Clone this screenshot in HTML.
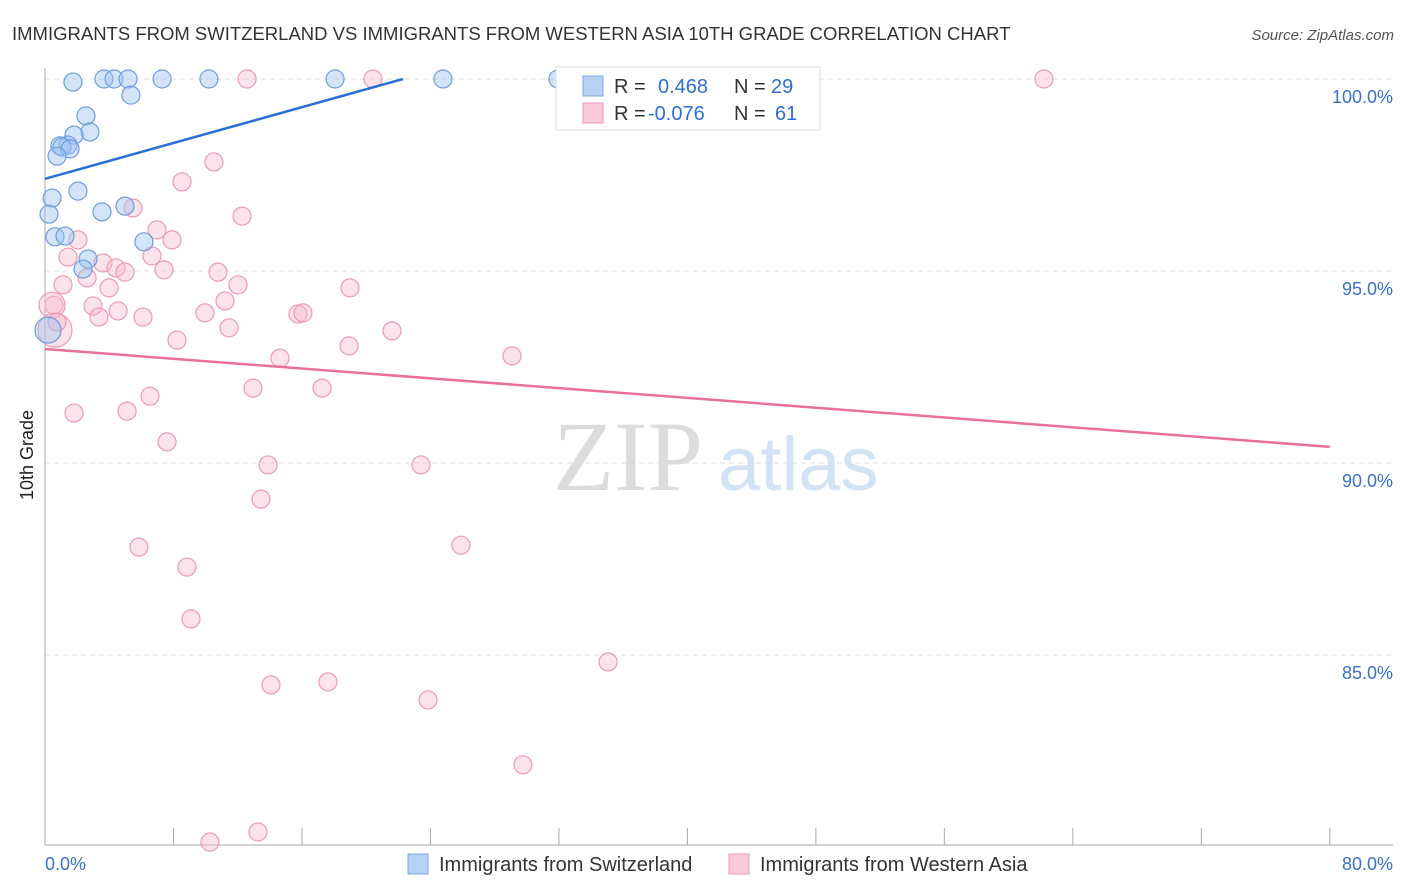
<!DOCTYPE html>
<html><head><meta charset="utf-8"><style>
body{margin:0;background:#fff;font-family:"Liberation Sans",sans-serif}
#wrap{position:relative;width:1406px;height:892px;overflow:hidden}
</style></head><body>
<div id="wrap">
<svg id="svg" width="1406" height="892" xmlns="http://www.w3.org/2000/svg">
<text x="12" y="40" font-size="18.5" fill="#333">IMMIGRANTS FROM SWITZERLAND VS IMMIGRANTS FROM WESTERN ASIA 10TH GRADE CORRELATION CHART</text>
<text x="1394" y="40" font-size="15" fill="#555" font-style="italic" text-anchor="end">Source: ZipAtlas.com</text>
<text x="33" y="455" font-size="18" fill="#222" text-anchor="middle" transform="rotate(-90 33 455)">10th Grade</text>
<text x="553" y="490" font-size="100" fill="#dcdcdc" font-family="Liberation Serif,serif">ZIP</text>
<text x="718" y="490" font-size="76" fill="#d3e2f4">atlas</text>
<g id="grid"></g><g id="axes"></g><g id="pts"></g><g id="lines"></g>
<g>
<rect x="556" y="67" width="264" height="63" fill="#fff" stroke="#ddd"/>
<rect x="583" y="76" width="20" height="20" fill="#b7d2f5" stroke="#7aa6e3"/>
<rect x="583" y="103" width="20" height="20" fill="#fbcad8" stroke="#ee9ab5"/>
<text x="614" y="93" font-size="20" fill="#333">R =</text>
<text x="658" y="93" font-size="20" fill="#2f6fd1">0.468</text>
<text x="734" y="93" font-size="20" fill="#333">N =</text>
<text x="771" y="93" font-size="20" fill="#2f6fd1">29</text>
<text x="614" y="120" font-size="20" fill="#333">R =</text>
<text x="648" y="120" font-size="20" fill="#2f6fd1">-0.076</text>
<text x="734" y="120" font-size="20" fill="#333">N =</text>
<text x="775" y="120" font-size="20" fill="#2f6fd1">61</text>
</g>
<g>
<rect x="408" y="854" width="20" height="20" fill="#b7d2f5" stroke="#7aa6e3"/>
<text x="439" y="871" font-size="20" fill="#333">Immigrants from Switzerland</text>
<rect x="729" y="854" width="20" height="20" fill="#fbcad8" stroke="#ee9ab5"/>
<text x="760" y="871" font-size="20" fill="#333">Immigrants from Western Asia</text>
</g>
</svg>
</div>
<script>
const yTicks=[100,95,90,85];
const xTickLabels=["0.0%","80.0%"];
const blueX=[1.74,3.67,4.30,5.17,7.29,10.21,18.06,24.78,31.94,5.35,2.55,2.80,1.81,0.93,1.43,1.06,1.56,0.75,2.05,0.44,0.25,3.55,4.98,0.62,1.25,6.16,2.68,2.37,0.19];
const blueY=[99.92,100,100,100,100,100,100,100,100,99.58,99.04,98.62,98.54,98.26,98.28,98.23,98.18,97.99,97.08,96.90,96.48,96.54,96.69,95.89,95.91,95.76,95.31,95.05,93.46];
const blueR=[9,9,9,9,9,9,9,9,9,9,9,9,9,9,9,9,9,9,9,9,9,9,9,9,9,9,9,9,13];
const pinkX=[12.58,20.42,42.28,62.20,10.52,8.53,12.27,5.48,2.05,6.97,7.91,1.43,3.61,6.66,4.42,4.98,7.41,10.77,1.12,2.62,3.99,12.02,18.99,11.21,0.56,2.99,4.55,3.36,6.10,9.96,15.75,16.06,11.46,21.61,8.22,18.93,14.63,29.08,12.95,17.25,6.54,1.81,5.11,7.60,13.89,23.41,13.45,5.85,25.90,8.84,9.09,35.06,14.07,17.62,23.85,29.76,10.27,13.26,0.62,0.44,0.75];
const pinkY=[100,100,100,100,97.84,97.32,96.43,96.64,95.81,96.07,95.81,95.36,95.21,95.39,95.08,94.97,95.03,94.97,94.64,94.82,94.56,94.64,94.56,94.22,94.11,94.09,93.96,93.80,93.80,93.91,93.88,93.91,93.52,93.44,93.20,93.05,92.73,92.79,91.95,91.95,91.74,91.30,91.35,90.55,89.95,89.95,89.06,87.81,87.86,87.29,85.94,84.82,84.22,84.30,83.83,82.14,80.13,80.39,93.46,94.11,93.67];
const blueTrend=[[0,97.40],[22.29,100]];
const pinkTrend=[[0,92.97],[80,90.42]];
const X=v=>45+v*16.06, Y=v=>79+(100-v)*38.4;
const NS="http://www.w3.org/2000/svg";
function mk(tag,attrs,parent){const e=document.createElementNS(NS,tag);for(const k in attrs)e.setAttribute(k,attrs[k]);parent.appendChild(e);return e;}
const grid=document.getElementById('grid'),axes=document.getElementById('axes'),pts=document.getElementById('pts'),lines=document.getElementById('lines');
yTicks.forEach(t=>{
 const l=mk('line',{x1:45,x2:1393,y1:Y(t),y2:Y(t),stroke:'#ddd','stroke-dasharray':'5,4'},grid);
 
 
 const tx=mk('text',{x:1393,y:Y(t)+24,'font-size':18,fill:'#3a70c9','text-anchor':'end'},axes);
 tx.textContent=t.toFixed(1)+'%';
 
 
});
const ya=mk('line',{x1:45,x2:45,y1:68,y2:845,stroke:'#aaa'},axes);


const xa=mk('line',{x1:45,x2:1393,y1:845,y2:845,stroke:'#aaa'},axes);


for(let i=0;i<=10;i++){const tk=mk('line',{x1:X(i*8),x2:X(i*8),y1:828,y2:845,stroke:'#aaa'},axes);
 
 }
const t0=mk('text',{x:45,y:870,'font-size':18,fill:'#3a70c9'},axes);t0.textContent=xTickLabels[0];


const t1=mk('text',{x:1393,y:870,'font-size':18,fill:'#3a70c9','text-anchor':'end'},axes);t1.textContent=xTickLabels[1];


pinkX.forEach((x,i)=>{const c=mk('circle',{cx:X(x),cy:Y(pinkY[i]),r:(i>=58&&i<60)?(i==58?17:13):9,fill:'rgba(247,182,202,0.4)',stroke:'#eb9bb4','stroke-width':1.2},pts);
 
 });
blueX.forEach((x,i)=>{const c=mk('circle',{cx:X(x),cy:Y(blueY[i]),r:blueR[i],fill:'rgba(160,196,240,0.45)',stroke:'#6d9de0','stroke-width':1.2},pts);
 
 });
const bl=mk('line',{x1:X(blueTrend[0][0]),y1:Y(blueTrend[0][1]),x2:X(blueTrend[1][0]),y2:Y(blueTrend[1][1]),stroke:'#2a6fd6','stroke-width':2.5},lines);


const pl=mk('line',{x1:X(pinkTrend[0][0]),y1:Y(pinkTrend[0][1]),x2:X(pinkTrend[1][0]),y2:Y(pinkTrend[1][1]),stroke:'#e8709a','stroke-width':2.5},lines);


</script>
</body></html>
